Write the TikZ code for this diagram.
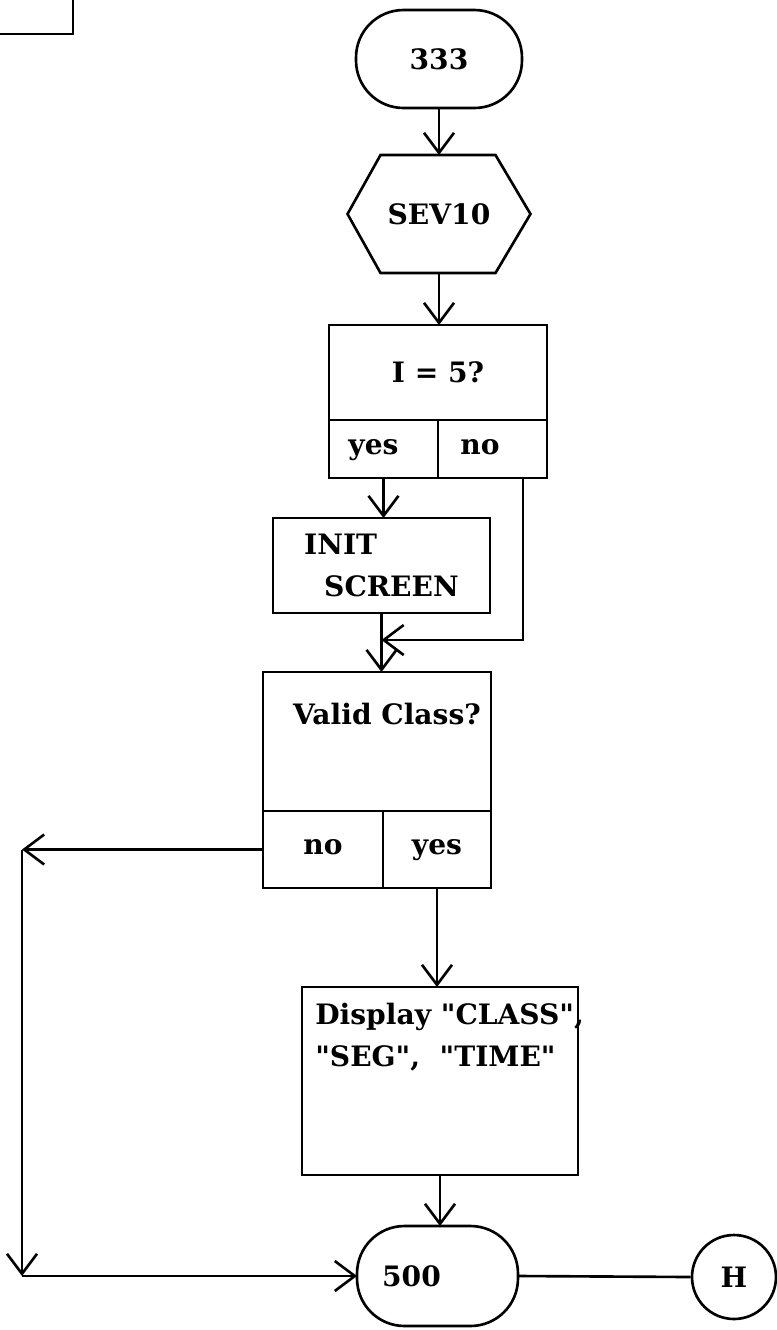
\documentclass[tikz,border=0pt]{standalone}
\usepackage{fontspec}
\setmainfont{DejaVu Serif}
\usetikzlibrary{positioning,arrows.meta}

\newcommand{\virg}{\textquotedbl}

\begin{document}
\begin{tikzpicture}[x=0.02cm,y=-0.02cm,
		font={\bfseries\fontsize{16}{23.8}\selectfont},
		linea/.style={line width=1.5pt},
		freccia/.style={linea,-{Straight Barb[length=0.4cm,width=0.6cm]}},
		blocco/.style={draw,line width=1.5pt,rectangle,inner sep=0pt,outer sep=0pt},
		casella/.style={blocco,text height=1.6ex,text depth=0.4ex},
		terminale/.style={blocco,rounded corners=0.95cm},
		testo/.style={inner sep=0pt,align=left}]
	\useasboundingbox (0,0) rectangle (777,1330);
	
	% Riquadro tagliato in alto a sinistra
	\draw[linea] (0,34) -| (73,0);
	
	% Inizio: 333 e SEV10
	\node[terminale,minimum width=3.32cm,minimum height=1.96cm] (t333) at (439,59) {333};
	\node[minimum width=3.66cm,minimum height=2.36cm,inner sep=0pt,outer sep=0pt] (sev10) at (439,214) {SEV10};
	\draw[linea] (sev10.west) -- ([xshift=0.66cm]sev10.north west) -- ([xshift=-0.7cm]sev10.north east)
		-- (sev10.east) -- ([xshift=-0.7cm]sev10.south east) -- ([xshift=0.66cm]sev10.south west) -- cycle;
	
	% Domanda I = 5? con le due caselle
	\node[blocco,minimum width=4.36cm,minimum height=1.9cm] (q5) at (438,372.5) {I = 5?};
	\node[casella,minimum width=2.18cm,minimum height=1.16cm,anchor=north west] (q5si) at (q5.south west) {yes\hspace*{0.4cm}};
	\node[casella,minimum width=2.18cm,minimum height=1.16cm,right=0pt of q5si] (q5no) {no\hspace*{0.5cm}};
	
	% INIT SCREEN
	\node[blocco,minimum width=4.34cm,minimum height=1.9cm,align=left] (init) at (381.5,565.5) {INIT\\\hspace*{0.4cm}SCREEN};
	\coordinate (rientro) at (523,640);
	
	% Valid Class?
	\node[blocco,minimum width=4.56cm,minimum height=2.78cm] (valid) at (377,741.5) {};
	\node[testo] (validtxt) at (387,714) {Valid Class?};
	\node[casella,minimum width=2.4cm,minimum height=1.54cm,anchor=north west] (vno) at (valid.south west) {no};
	\node[casella,minimum width=2.16cm,minimum height=1.54cm,right=0pt of vno] (vsi) {yes};
	
	% Display
	\node[blocco,minimum width=5.52cm,minimum height=3.76cm] (disp) at (440,1081) {};
	\node[testo,anchor=north west] (disptxt) at (315,1003) {Display \virg CLASS\virg,\\\virg SEG\virg,\ \ \virg TIME\virg};
	
	% Fine: 500 e connettore H
	\node[terminale,minimum width=3.22cm,minimum height=2cm] (n500) at (437.5,1276) {500\hspace*{1.04cm}};
	\node[draw,circle,line width=1.5pt,minimum size=1.68cm,inner sep=0pt] (hcon) at (734,1277) {H};
	\coordinate (ang1) at (22,849.5);
	\coordinate (ang2) at (22,1276);
	
	% Frecce
	\draw[freccia] (t333.south) -- (t333.south |- sev10.north);
	\draw[freccia] (sev10.south) -- (sev10.south |- q5.north);
	\draw[freccia] (q5si.south) -- (q5si.south |- init.north);
	\draw[freccia] (q5no.south -| rientro) |- (init.south |- rientro);
	\draw[freccia] (init.south) -- (init.south |- valid.north);
	\draw[freccia] (vno.west) -- (ang1);
	\draw[freccia] (ang1) -- (ang2);
	\draw[freccia] (ang2) -- (n500.west);
	\draw[freccia] (vsi.south) -- (vsi.south |- disp.north);
	\draw[freccia] (disp.south) -- (disp.south |- n500.north);
	\draw[linea] (n500.east) -- (hcon.west);
\end{tikzpicture}
\end{document}
